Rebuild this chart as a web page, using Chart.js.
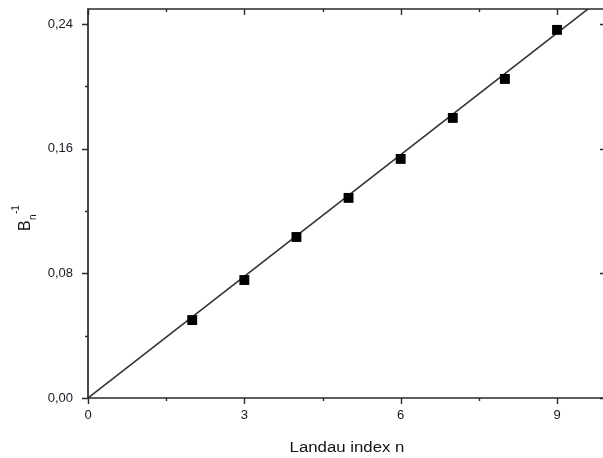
<!DOCTYPE html>
<html>
<head>
  <script src="https://cdn.jsdelivr.net/npm/chart.js@4.4.1/dist/chart.umd.min.js"></script>
  <style>
    html,body{margin:0;padding:0;background:#fff;overflow:hidden;}
  </style>
</head>
<body>
  <canvas id="myChart" width="620" height="458"></canvas>
  <script>
    // measured points
    let landauIndex=[2,3,4,5,6,7,8,9];
    let invField=[0.050,0.0757,0.1033,0.1284,0.1534,0.1797,0.2047,0.2362];
    // linear fit through origin (end points)
    let fitX=[0,9.94];
    let fitY=[0,0.2586];
    let xTicks=[0,3,6,9];
    let yTicks=[0,0.08,0.16,0.24];

    const FONT="'Liberation Sans', Arial, sans-serif";
    const AXIS="#2a2a2a";

    function isMult(v,step){
      let r=v/step;
      return Math.abs(r-Math.round(r))<1e-6;
    }

    const framePlugin={
      id:'frame',
      afterDraw(chart){
        const ctx=chart.ctx;
        const a=chart.chartArea;
        const xs=chart.scales.x, ys=chart.scales.y;
        ctx.save();
        ctx.strokeStyle=AXIS;
        ctx.lineWidth=1.7;
        ctx.beginPath();
        ctx.rect(a.left,a.top,a.right-a.left,a.bottom-a.top);
        ctx.stroke();
        ctx.lineWidth=1.4;
        ctx.beginPath();
        xs.ticks.forEach(t=>{
          if(!isMult(t.value,1.5)) return;
          let px=Math.round(xs.getPixelForValue(t.value))+0.5;
          let major=xTicks.some(v=>Math.abs(v-t.value)<1e-6);
          let len=major?6:3;
          ctx.moveTo(px,a.bottom);ctx.lineTo(px,a.bottom+len);
          ctx.moveTo(px,a.top);ctx.lineTo(px,a.top+len);
        });
        ys.ticks.forEach(t=>{
          if(!isMult(t.value,0.04)) return;
          let py=Math.round(ys.getPixelForValue(t.value))+0.5;
          let major=yTicks.some(v=>Math.abs(v-t.value)<1e-6);
          let len=major?6:3;
          ctx.moveTo(a.left,py);ctx.lineTo(a.left-len,py);
          ctx.moveTo(a.right,py);ctx.lineTo(a.right-len,py);
        });
        ctx.stroke();

        // x title
        ctx.fillStyle="#141414";
        ctx.save();
        ctx.translate(347,452);
        ctx.scale(1.2,1);
        ctx.font="14px "+FONT;
        ctx.textAlign='center';
        ctx.textBaseline='alphabetic';
        ctx.fillText('Landau index n',0,0);
        ctx.restore();

        // y title  B_n^-1
        ctx.save();
        ctx.translate(30,231);
        ctx.rotate(-Math.PI/2);
        ctx.textAlign='left';
        ctx.textBaseline='alphabetic';
        ctx.font="16px "+FONT;
        ctx.fillText('B',0,0);
        ctx.font="10px "+FONT;
        ctx.fillText('n',11,6);
        ctx.fillText('-1',17,-11);
        ctx.restore();
        ctx.restore();
      }
    };

    graph();
    function graph(){
      var ctx=document.getElementById('myChart').getContext('2d');
      var myChart=new Chart(ctx,{
        type:'scatter',
        data:{
          datasets:[{
            label:'fit',
            data:fitX.map((x,i)=>({x:x,y:fitY[i]})),
            type:'line',
            showLine:true,
            borderColor:'#333333',
            borderWidth:1.6,
            pointRadius:0,
            fill:false,
            order:2
          },{
            label:'data',
            data:landauIndex.map((x,i)=>({x:x,y:invField[i]})),
            pointStyle:'rect',
            pointRadius:7,
            pointBorderWidth:0,
            backgroundColor:'#000000',
            borderColor:'#000000',
            order:1
          }]
        },
        options:{
          responsive:false,
          animation:false,
          layout:{padding:{top:9,right:14,left:0,bottom:0}},
          plugins:{legend:{display:false},tooltip:{enabled:false}},
          scales:{
            x:{
              type:'linear',
              min:0,max:9.94,
              border:{display:false},
              grid:{display:false,drawTicks:false},
              afterFit:s=>{s.height=60;s.paddingLeft=0;s.paddingRight=0;},
              ticks:{
                stepSize:1.5,
                includeBounds:false,
                padding:10,
                maxRotation:0,
                autoSkip:false,
                color:'#1a1a22',
                font:{family:FONT,size:13},
                callback:v=>xTicks.some(t=>Math.abs(t-v)<1e-6)?String(Math.round(v)):''
              }
            },
            y:{
              type:'linear',
              min:0,max:0.2496,
              border:{display:false},
              grid:{display:false,drawTicks:false},
              afterFit:s=>{s.width=88;s.paddingTop=0;s.paddingBottom=0;},
              ticks:{
                stepSize:0.04,
                includeBounds:false,
                padding:15,
                autoSkip:false,
                color:'#1a1a22',
                font:{family:FONT,size:13},
                callback:v=>yTicks.some(t=>Math.abs(t-v)<1e-6)?v.toFixed(2).replace('.',','):''
              }
            }
          }
        },
        plugins:[framePlugin]
      });
    }
  </script>
</body>
</html>
